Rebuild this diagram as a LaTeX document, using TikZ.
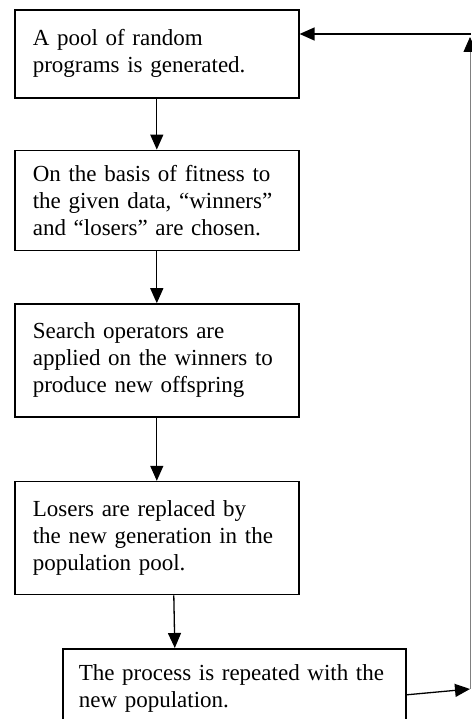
\documentclass[tikz,border=0pt]{standalone}
\usepackage{fontspec}
\setmainfont{Liberation Serif}
\usetikzlibrary{arrows.meta,positioning}

\begin{document}
\begin{tikzpicture}[x=1pt,y=-1pt,>={Triangle[length=15pt,width=13pt]},line width=1.3pt,
    stage/.style={draw,line width=1.6pt,text width=248pt,inner xsep=18pt,align=left,
      font=\fontsize{23}{27}\selectfont},
    node distance=51pt]

            \useasboundingbox (0,0) rectangle (471,719);

            \node[stage,minimum height=88pt,anchor=north west] (pool) at (14,9) {A pool of random\\ programs is generated.};

            \node[stage,minimum height=100pt] (select) [below=of pool] {On the basis of fitness to\\ the given data, ``winners''\\ and ``losers'' are chosen.};

            \node[stage,minimum height=113pt] (ops) [below=52pt of select] {Search operators are\\ applied on the winners to\\ produce new offspring};

            \node[stage,minimum height=113pt] (losers) [below=63pt of ops] {Losers are replaced by\\ the new generation in the\\ population pool.};

            \node[stage,text width=311pt,inner xsep=16pt,minimum height=80pt,anchor=north west] (repeat) at (62,648) {The process is repeated with the\\ new population.};

            % return path
            \coordinate (rturn) at (470,689);
            \coordinate (rtop) at (470,37);
            \coordinate (rjoin) at (471,34);

            \path[->] (pool) edge (select)
                      (select) edge (ops)
                      (ops) edge (losers);

            \draw[->] ([xshift=17pt]losers.south) -- ([xshift=-59.5pt]repeat.north);

            \draw[->] ([yshift=-6pt]repeat.east) -- (rturn);

            \draw[-{Triangle[length=15pt,width=13pt,black]},gray,line width=0.8pt] (rturn) -- (rtop);

            \draw[->] (rjoin) -- (pool.east |- rjoin);

        \end{tikzpicture}
\end{document}
